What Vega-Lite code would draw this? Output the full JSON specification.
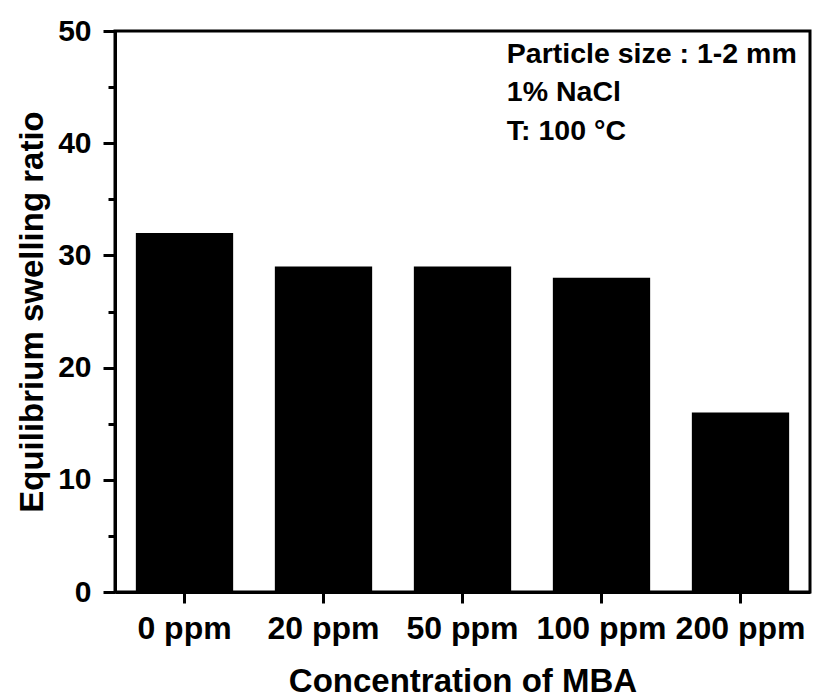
{
  "$schema": "https://vega.github.io/schema/vega-lite/v6.json",
  "autosize": "none",
  "padding": {"left": 115, "top": 31, "right": 4, "bottom": 106},
  "width": 695,
  "height": 561,
  "background": "white",
  "config": {
    "font": "Liberation Sans",
    "view": {"stroke": "black", "strokeWidth": 3},
    "axis": {
      "domainColor": "black",
      "domainWidth": 3,
      "tickColor": "black",
      "tickWidth": 3,
      "grid": false,
      "labelColor": "black",
      "labelFont": "Liberation Sans",
      "labelFontWeight": "bold",
      "titleColor": "black",
      "titleFont": "Liberation Sans",
      "titleFontWeight": "bold"
    }
  },
  "datasets": {
    "bars": [
      {"conc": "0 ppm", "ratio": 32},
      {"conc": "20 ppm", "ratio": 29},
      {"conc": "50 ppm", "ratio": 29},
      {"conc": "100 ppm", "ratio": 28},
      {"conc": "200 ppm", "ratio": 16}
    ],
    "notes": [
      {"anchor": "100 ppm", "level": 47.15, "text": "Particle size : 1-2 mm"},
      {"anchor": "100 ppm", "level": 43.76, "text": "1% NaCl"},
      {"anchor": "100 ppm", "level": 40.28, "text": "T: 100 °C"}
    ]
  },
  "layer": [
    {
      "data": {"name": "bars"},
      "mark": {"type": "bar", "color": "black"},
      "encoding": {
        "x": {
          "field": "conc",
          "type": "nominal",
          "scale": {"domain": ["0 ppm", "20 ppm", "50 ppm", "100 ppm", "200 ppm"], "paddingInner": 0.3, "paddingOuter": 0.15},
          "axis": {
            "title": "Concentration of MBA",
            "labelAngle": 0,
            "labelFontSize": 32,
            "titleFontSize": 33,
            "tickSize": 11,
            "labelPadding": 10,
            "titlePadding": 21
          }
        },
        "y": {
          "field": "ratio",
          "type": "quantitative",
          "scale": {"domain": [0, 50], "nice": false, "zero": true},
          "axis": {
            "title": "Equilibrium swelling ratio",
            "values": [0, 5, 10, 15, 20, 25, 30, 35, 40, 45, 50],
            "labelExpr": "datum.value % 10 === 0 ? datum.label : ''",
            "labelFontSize": 30,
            "titleFontSize": 33,
            "tickSize": {"condition": {"test": "datum.value % 10 === 0", "value": 12}, "value": 7},
            "labelPadding": 12,
            "titlePadding": 8
          }
        }
      }
    },
    {
      "data": {"name": "notes"},
      "mark": {"type": "text", "align": "left", "baseline": "alphabetic", "dx": -46, "fontSize": 28.5, "fontWeight": "bold", "font": "Liberation Sans", "color": "black"},
      "encoding": {
        "x": {"field": "anchor", "type": "nominal", "bandPosition": 0},
        "y": {"field": "level", "type": "quantitative"},
        "text": {"field": "text"}
      }
    }
  ]
}
